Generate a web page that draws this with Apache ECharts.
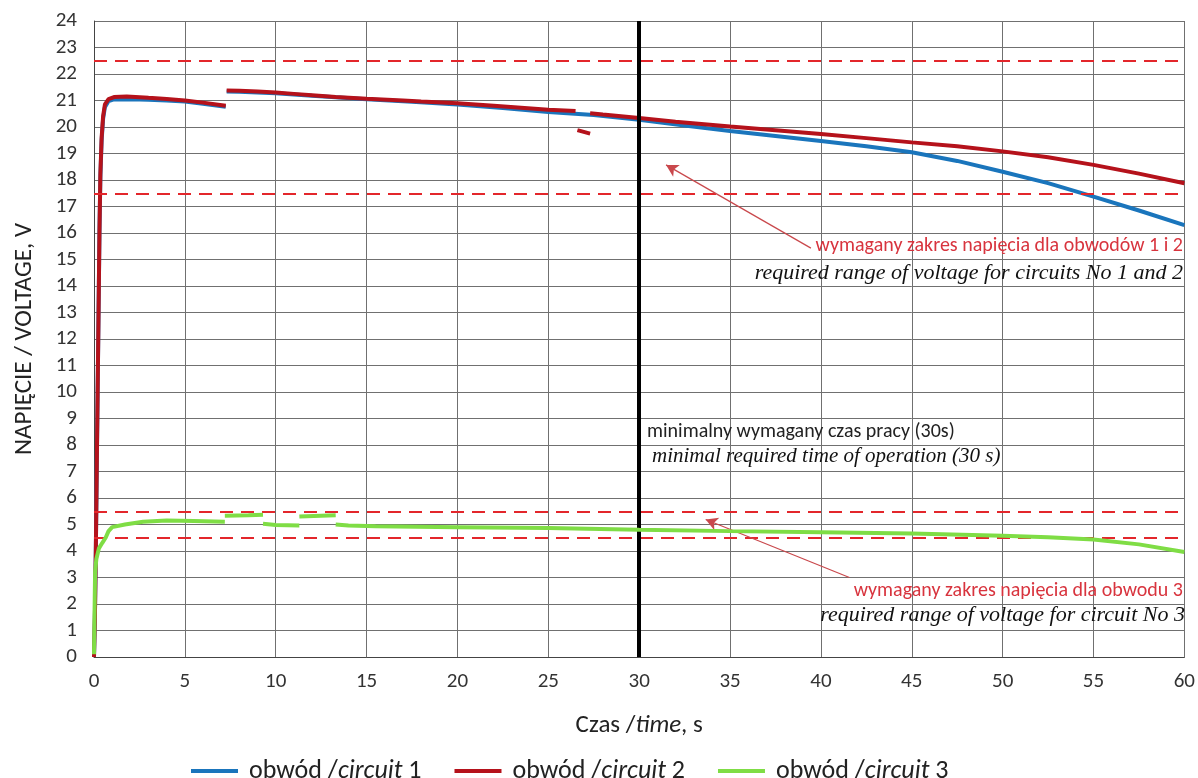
<!DOCTYPE html>
<html>
<head>
<meta charset="utf-8">
<script src="https://cdn.jsdelivr.net/npm/echarts@6/dist/echarts.min.js"></script>
<style>
  html, body { margin: 0; padding: 0; background: #ffffff; }
  #chart { width: 1198px; height: 778px; }
</style>
</head>
<body>
<div id="chart"></div>
<script>
// Measured supply voltage of three circuits versus time.
// Each series is a list of [time s, voltage V]; null marks a gap in the trace.
const xTicks = { min: 0, max: 60, step: 5 };
const yTicks = { min: 0, max: 24, step: 1 };

const circuit1 = [
  [0, 0], [0.05, 1.5], [0.1, 4], [0.15, 7], [0.2, 10], [0.25, 13], [0.3, 16], [0.35, 18.1],
  [0.42, 19.5], [0.5, 20.3], [0.6, 20.75], [0.8, 20.98], [1.1, 21.04], [2, 21.05], [3, 21.03],
  [4, 21.0], [5, 20.96], [6, 20.88], [7.25, 20.76],
  null,
  [7.3, 21.34], [8, 21.33], [10, 21.27], [12, 21.18], [15, 21.05], [17.5, 20.95], [20, 20.85],
  [22.5, 20.72], [25, 20.57], [27.5, 20.45], [30, 20.27], [32.5, 20.06], [35, 19.85],
  [37.5, 19.66], [40, 19.47], [42.5, 19.27], [45, 19.05], [47.5, 18.72], [50, 18.31],
  [52.5, 17.88], [55, 17.37], [57.5, 16.85], [60, 16.3]
];

const circuit2 = [
  [0, 0], [0.05, 1.5], [0.1, 4], [0.15, 7], [0.2, 10], [0.25, 13], [0.3, 16], [0.35, 18.2],
  [0.42, 19.6], [0.5, 20.4], [0.6, 20.85], [0.8, 21.05], [1.1, 21.13], [1.8, 21.15], [3, 21.1],
  [4, 21.06], [5, 21.0], [6, 20.92], [7.25, 20.8],
  null,
  [7.3, 21.38], [8, 21.37], [9, 21.34], [10, 21.3], [11, 21.25], [12, 21.2], [13.3, 21.13],
  [15, 21.07], [17, 21.0], [18, 20.96], [20, 20.9], [22, 20.8], [25, 20.65], [26.5, 20.6],
  null,
  [26.6, 19.88], [27.3, 19.75],
  null,
  [27.3, 20.52], [28, 20.47], [30, 20.34], [32, 20.2], [35, 20.02], [37.5, 19.88], [40, 19.74],
  [42.5, 19.58], [45, 19.42], [47.5, 19.27], [50, 19.08], [52.5, 18.86], [55, 18.57],
  [57.5, 18.24], [60, 17.88]
];

const circuit3 = [
  [0, 0.1], [0.02, 1.2], [0.04, 2.2], [0.06, 3.2], [0.13, 3.7], [0.27, 4.1], [0.45, 4.3],
  [0.64, 4.5], [0.8, 4.75], [1.0, 4.9], [1.7, 5.0], [2.7, 5.1], [4, 5.15], [5.5, 5.13], [7.2, 5.1],
  null,
  [7.2, 5.33], [8.5, 5.35], [9.3, 5.37],
  null,
  [9.3, 5.03], [10, 4.98], [11.3, 4.96],
  null,
  [11.3, 5.3], [12.5, 5.33], [13.3, 5.35],
  null,
  [13.3, 5.0], [14, 4.96], [15.5, 4.93], [20, 4.9], [25, 4.87], [30, 4.8], [35, 4.75],
  [40, 4.71], [45, 4.66], [50, 4.58], [52.5, 4.52], [55, 4.43], [57.5, 4.25], [60, 3.96]
];

// Required voltage bands and the minimal operating time
const limitsCircuit12 = [17.5, 22.5];
const limitsCircuit3 = [4.5, 5.5];
const minOperatingTime = 30;

const seriesNames = ['obwód /circuit 1', 'obwód /circuit 2', 'obwód /circuit 3'];
const seriesColors = ['#1A75BC', '#B5121B', '#7FDD45'];

function toLineData(points) {
  let lastT = 0;
  return points.map(p => {
    if (p === null) return [lastT, '-'];
    lastT = p[0];
    return p;
  });
}

const uiFont = "Carlito, Lato, 'Open Sans', sans-serif";
const serifFont = "'Liberation Serif', 'DejaVu Serif', serif";
const redText = '#D8343E';
const dashRed = '#E3262B';
const gridGray = '#707070';

const chart = echarts.init(document.getElementById('chart'), null, { renderer: 'canvas' });

const dashedLines = limitsCircuit12.concat(limitsCircuit3).map(v => ({ yAxis: v }));
const arrowStyle = { color: '#C9484C', width: 1.2, type: 'solid' };

const option = {
  animation: false,
  backgroundColor: '#ffffff',
  grid: { left: 94, right: 12, top: 21, bottom: 121, containLabel: false },
  xAxis: {
    type: 'value',
    min: xTicks.min, max: xTicks.max, interval: xTicks.step,
    axisLine: { show: true, lineStyle: { color: '#444', width: 1 } },
    axisTick: { show: false },
    splitLine: { show: true, lineStyle: { color: gridGray, width: 1 } },
    axisLabel: { color: '#333', fontFamily: uiFont, fontSize: 21, margin: 14 },
    name: '{n|Czas /}{i|time}{n|, s}',
    nameLocation: 'middle',
    nameGap: 56,
    nameTextStyle: {
      rich: {
        n: { fontFamily: uiFont, fontSize: 25, color: '#222' },
        i: { fontFamily: uiFont, fontSize: 25, color: '#222', fontStyle: 'italic' }
      }
    }
  },
  yAxis: {
    type: 'value',
    min: yTicks.min, max: yTicks.max, interval: yTicks.step,
    axisLine: { show: true, lineStyle: { color: '#444', width: 1 } },
    axisTick: { show: false },
    splitLine: { show: true, lineStyle: { color: gridGray, width: 1 } },
    axisLabel: { color: '#333', fontFamily: uiFont, fontSize: 21, margin: 17 },
    name: 'NAPIĘCIE / VOLTAGE, V',
    nameLocation: 'middle',
    nameGap: 57,
    nameTextStyle: { fontFamily: uiFont, fontSize: 25, color: '#222' }
  },
  legend: {
    left: 186, top: 753,
    itemWidth: 47, itemHeight: 4, itemGap: 33,
    icon: 'rect',
    data: seriesNames,
    formatter: name => {
      const num = name.split(' ').pop();
      return '{g|}{n|obwód /}{i|circuit}{n| ' + num + '}';
    },
    textStyle: {
      rich: {
        g: { width: 6 },
        n: { fontFamily: uiFont, fontSize: 26, color: '#222' },
        i: { fontFamily: uiFont, fontSize: 26, color: '#222', fontStyle: 'italic' }
      }
    }
  },
  series: [
    {
      name: seriesNames[0], type: 'line', data: toLineData(circuit1),
      showSymbol: false, connectNulls: false, z: 3,
      lineStyle: { color: seriesColors[0], width: 4 }, itemStyle: { color: seriesColors[0] }
    },
    {
      name: seriesNames[1], type: 'line', data: toLineData(circuit2),
      showSymbol: false, connectNulls: false, z: 4,
      lineStyle: { color: seriesColors[1], width: 4 }, itemStyle: { color: seriesColors[1] }
    },
    {
      name: seriesNames[2], type: 'line', data: toLineData(circuit3),
      showSymbol: false, connectNulls: false, z: 5,
      lineStyle: { color: seriesColors[2], width: 4 }, itemStyle: { color: seriesColors[2] }
    },
    {
      // reference lines and annotation arrows
      name: 'ref', type: 'line', data: [], z: 6,
      markLine: {
        silent: true, animation: false, symbol: ['none', 'none'],
        label: { show: false },
        data: [
          ...dashedLines.map(d => ({ ...d, lineStyle: { color: dashRed, width: 2, type: [13, 8] } })),
          { xAxis: minOperatingTime, lineStyle: { color: '#000', width: 4, type: 'solid' } },
          [
            { coord: [39.45, 15.43], symbol: 'none', lineStyle: arrowStyle },
            { coord: [31.48, 18.57], symbol: 'arrow', symbolSize: [10, 12], itemStyle: { color: '#E3262B' } }
          ],
          [
            { coord: [41.57, 3.0], symbol: 'none', lineStyle: arrowStyle },
            { coord: [33.66, 5.19], symbol: 'arrow', symbolSize: [10, 12], itemStyle: { color: '#E3262B' } }
          ]
        ]
      }
    }
  ],
  graphic: [
    { type: 'text', right: 1198 - 1183, top: 236, z: 10,
      style: { text: 'wymagany zakres napięcia dla obwodów 1 i 2', fill: redText, font: '20px ' + uiFont } },
    { type: 'text', right: 1198 - 1183, top: 262, z: 10,
      style: { text: 'required range of voltage for circuits No 1 and 2', fill: '#111', font: 'italic 22px ' + serifFont } },
    { type: 'text', left: 647, top: 422, z: 10,
      style: { text: 'minimalny wymagany czas pracy (30s)', fill: '#222', font: '20px ' + uiFont } },
    { type: 'text', left: 652, top: 446, z: 10,
      style: { text: 'minimal required time of operation (30 s)', fill: '#111', font: 'italic 21px ' + serifFont } },
    { type: 'text', right: 1198 - 1183, top: 581, z: 10,
      style: { text: 'wymagany zakres napięcia dla obwodu 3', fill: redText, font: '20px ' + uiFont } },
    { type: 'text', right: 1198 - 1185, top: 604, z: 10,
      style: { text: 'required range of voltage for circuit No 3', fill: '#111', font: 'italic 22px ' + serifFont } }
  ]
};

chart.setOption(option);
</script>
</body>
</html>
